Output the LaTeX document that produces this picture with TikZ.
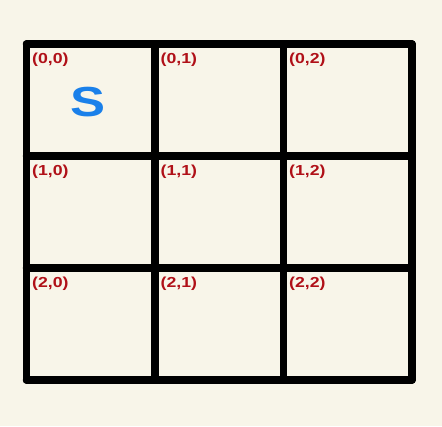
\documentclass[tikz,border=0pt]{standalone}
\usepackage{fontspec}
\setmainfont{Liberation Sans}
\definecolor{bgcream}{RGB}{248,245,233}
\definecolor{cellred}{RGB}{176,16,24}
\definecolor{startblue}{RGB}{26,128,234}
\begin{document}
\begin{tikzpicture}[
				x=1pt,
				y=-1pt,
				line join=round,
				gridline/.style={line width=7.5pt, line cap=round},
				celllabel/.style={anchor=north west, inner sep=0pt, text=cellred, font=\fontsize{14.5}{14.5}\selectfont\bfseries},
				startlabel/.style={inner sep=0pt, text=startblue, font=\fontsize{42}{42}\selectfont\bfseries}
			]

			% Background
			\fill[bgcream] (0,0) rectangle (442,426);
			\useasboundingbox (0,0) rectangle (442,426);

			\begin{scope}[shift={(26.5,44)}, x=128.5pt, y=-112pt]
				% Grid lines
				\foreach \i in {0,1,2,3} {
					\draw[gridline] (\i,0) -- (\i,3);
					\draw[gridline] (0,\i) -- (3,\i);
				}

				% Cell labels
				\foreach \r in {0,1,2} {
					\foreach \c in {0,1,2} {
						\node[celllabel] (cell-\r-\c) at ([xshift=5.5pt, yshift=-9pt]\c,\r) {\scalebox{1.22}[1]{(\r,\c)}};
					}
				}

				% Start cell
				\node[startlabel] (start) at (0.48,0.52) {\scalebox{1.25}[1]{S}};
			\end{scope}

		\end{tikzpicture}
\end{document}
